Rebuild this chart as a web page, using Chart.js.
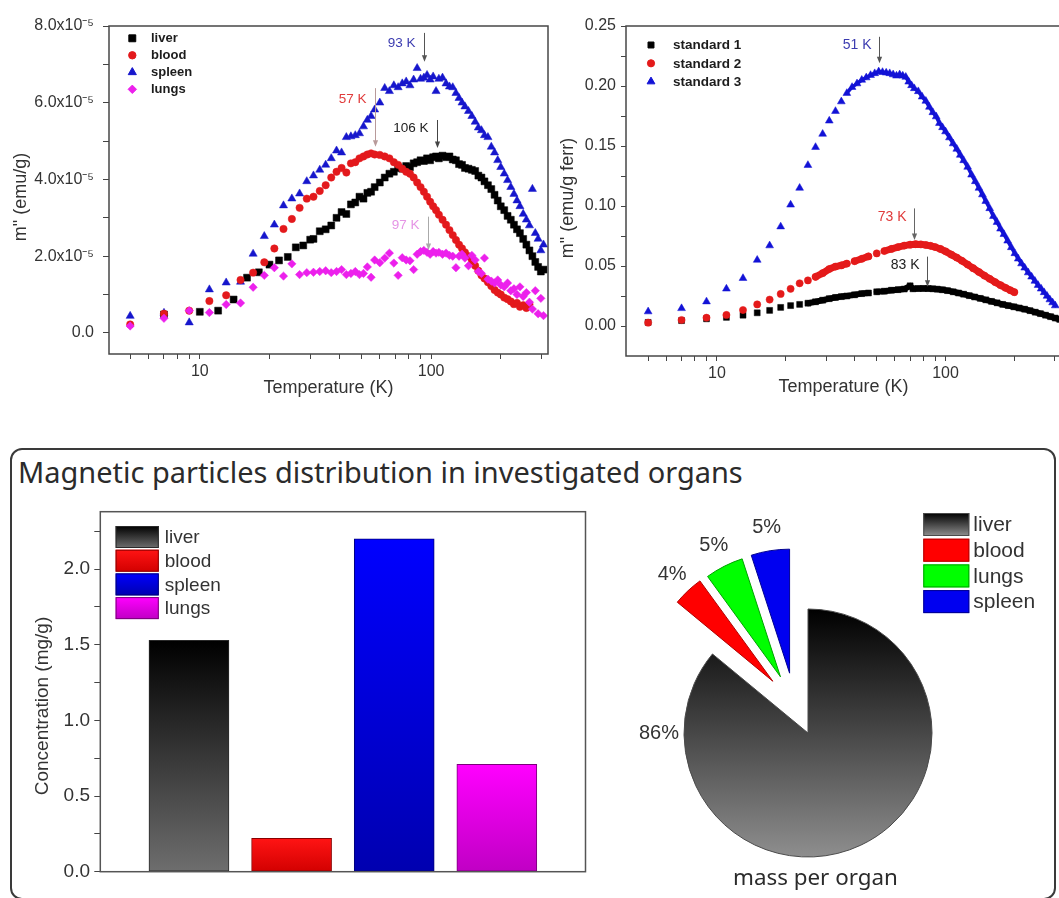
<!DOCTYPE html>
<html lang="en">
<head>
<meta charset="utf-8">
<title>Magnetic particles distribution in investigated organs</title>
<script src="https://cdn.jsdelivr.net/npm/chart.js@4.4.1/dist/chart.umd.min.js"></script>
<style>
  html, body { margin: 0; padding: 0; background: #fff; width: 1059px; height: 898px; overflow: hidden; }
  canvas { position: absolute; }
  #panel { position: absolute; left: 10px; top: 448px; width: 1046px; height: 452px; box-sizing: border-box;
           border: 2px solid #3a3a3a; border-radius: 12px; }
  .caption { position: absolute; white-space: nowrap; color: #2b2b2b; font-family: "Noto Sans", "Open Sans", sans-serif; }
</style>
</head>
<body>
<div id="panel"></div>
<div id="panelTitle" class="caption">Magnetic particles distribution in investigated organs</div>
<canvas id="organSweep" width="560" height="410" style="left:0;top:0"></canvas>
<canvas id="standardSweep" width="520" height="410" style="left:546px;top:0"></canvas>
<canvas id="concentration" width="600" height="400" style="left:0;top:490px"></canvas>
<canvas id="massShare" width="459" height="458" style="left:600px;top:440px"></canvas>
<div id="pieCaption" class="caption">mass per organ</div>
<script>
// ---------------------------------------------------------------------------
// Organ samples: out-of-phase moment m'' (units of 1e-5 emu/g) vs temperature (K)
// ---------------------------------------------------------------------------
const organLowT = [5, 7, 9, 11, 13, 15, 17, 19, 21, 23, 25, 27, 29];
const liverLowT = [7, 10, 12, 14, 16, 18, 20, 22, 24, 26, 28, 30];
const organHighT = [31, 33, 35, 37, 39, 41, 43, 45, 47, 49, 51, 53, 55, 57, 60, 63, 66, 69, 72, 75,
  78, 81, 84, 87, 90, 93, 96, 99, 102, 105, 108, 112, 116, 120, 124, 128, 132, 136, 140, 145,
  150, 155, 160, 165, 170, 176, 182, 188, 194, 200, 207, 214, 221, 228, 235, 242, 250, 258, 266, 274,
  282, 290, 298, 306];

const liverM = [0.48, 0.55, 0.58, 0.87, 1.44, 1.58, 1.78, 1.89, 1.98, 2.23, 2.28, 2.43,
  2.45, 2.65, 2.70, 2.80, 3.00, 3.15, 3.10, 3.35, 3.40, 3.55, 3.50, 3.65, 3.68, 3.80, 3.92, 4.05, 4.15, 4.20, 4.30, 4.28,
  4.35, 4.32, 4.42, 4.45, 4.50, 4.48, 4.55, 4.50, 4.58, 4.60, 4.55, 4.62, 4.58, 4.60, 4.52, 4.50, 4.40, 4.38, 4.30, 4.28,
  4.25, 4.22, 4.10, 4.05, 3.95, 3.85, 3.75, 3.60, 3.45, 3.30, 3.20, 3.05, 2.95, 2.82, 2.70, 2.60, 2.45, 2.30, 2.15, 2.00,
  1.85, 1.72, 1.60, 1.65];
const bloodM = [0.22, 0.50, 0.58, 0.83, 0.98, 1.38, 1.57, 1.84, 2.20, 2.71, 2.97, 3.26, 3.50,
  3.55, 3.70, 3.85, 4.05, 4.20, 4.30, 4.18, 4.42, 4.45, 4.55, 4.60, 4.65, 4.68, 4.65, 4.64, 4.60, 4.55, 4.45, 4.38, 4.28,
  4.20, 4.15, 4.05, 3.92, 3.80, 3.68, 3.55, 3.42, 3.30, 3.20, 3.08, 2.95, 2.82, 2.68, 2.55, 2.42, 2.30, 2.20, 2.10, 2.00,
  1.88, 1.75, 1.62, 1.50, 1.42, 1.32, 1.22, 1.12, 1.05, 1.00, 0.92, 0.88, 0.82, 0.75, 0.78, 0.68, 0.72, 0.65, 0.75];
const spleenM = [0.44, 0.52, 0.27, 1.13, 1.31, 1.33, 2.06, 2.52, 2.82, 3.32, 3.50, 3.63, 3.95,
  4.10, 4.25, 4.38, 4.55, 4.75, 4.70, 5.10, 5.12, 5.15, 5.20, 5.38, 5.55, 5.65, 5.82, 6.00, 6.38, 6.30, 6.45, 6.40, 6.50,
  6.55, 6.45, 6.60, 6.90, 6.62, 6.65, 6.72, 6.60, 6.68, 6.30, 6.62, 6.65, 6.50, 6.42, 6.40, 6.25, 6.12, 6.00, 5.90, 5.78,
  5.65, 5.50, 5.35, 5.28, 5.15, 5.10, 4.85, 4.70, 4.50, 4.32, 4.15, 3.98, 3.80, 3.62, 3.45, 3.30, 3.10, 2.95, 2.80, 3.75,
  2.60, 2.45, 2.15, 2.30];
const lungsM = [0.18, 0.38, 0.58, 0.53, 0.74, 0.78, 1.19, 1.50, 1.70, 1.48, 1.80, 1.52, 1.57,
  1.58, 1.60, 1.62, 1.57, 1.60, 1.65, 1.52, 1.55, 1.60, 1.52, 1.55, 1.72, 1.45, 1.90, 1.83, 1.95, 2.08, 1.82, 1.50, 1.96,
  1.90, 1.88, 1.65, 2.05, 2.12, 2.15, 2.10, 2.05, 2.12, 2.08, 2.10, 2.05, 2.08, 2.02, 2.00, 1.70, 2.00, 2.05, 1.95, 1.75,
  2.02, 1.90, 1.60, 1.55, 1.95, 1.40, 1.35, 1.30, 1.38, 1.25, 1.20, 1.30, 1.10, 1.15, 1.00, 1.20, 0.95, 1.05, 0.80, 0.62,
  1.10, 0.50, 0.90, 0.45];

// ---------------------------------------------------------------------------
// Ferrofluid standards: m'' (emu/g ferr) vs temperature (K)
// ---------------------------------------------------------------------------
const stdLowT = [5, 7, 9, 11, 13, 15, 17, 19, 21, 23, 25, 27, 29, 31, 33];
const std1HighT = [35, 37, 40, 43, 46, 50, 54, 58, 62, 66, 70, 72, 76, 80, 84, 88, 92, 97, 102, 108,
  114, 120, 127, 134, 142, 150, 159, 168, 178, 188, 199, 210, 222, 234, 247, 260, 274, 288, 302, 316];
const std1M = [0.0030, 0.0045, 0.0060, 0.0072, 0.0090, 0.0110, 0.0130, 0.0155, 0.0170, 0.0180, 0.0190, 0.0202, 0.0215, 0.0228, 0.0238,
  0.0245, 0.0250, 0.0260, 0.0270, 0.0275, 0.0285, 0.0290, 0.0298, 0.0303, 0.0308, 0.0335, 0.0310, 0.0312, 0.0313, 0.0312,
  0.0310, 0.0307, 0.0302, 0.0295, 0.0285, 0.0275, 0.0265, 0.0253, 0.0242, 0.0230, 0.0218, 0.0205, 0.0193, 0.0180, 0.0170,
  0.0160, 0.0150, 0.0140, 0.0128, 0.0115, 0.0103, 0.0090, 0.0078, 0.0066, 0.0055];
const std2HighT = [35, 37, 40, 43, 46, 50, 54, 58, 62, 66, 70, 74, 78, 82, 86, 90, 95, 100, 106, 112,
  118, 125, 132, 140, 148, 156, 165, 174, 183, 192, 200];
const std2M = [0.0028, 0.0050, 0.0069, 0.0092, 0.0133, 0.0180, 0.0220, 0.0267, 0.0310, 0.0356, 0.0380, 0.0410, 0.0440, 0.0475, 0.0495,
  0.0505, 0.0520, 0.0540, 0.0560, 0.0580, 0.0605, 0.0625, 0.0642, 0.0658, 0.0670, 0.0678, 0.0682, 0.0680, 0.0675, 0.0668,
  0.0658, 0.0642, 0.0622, 0.0595, 0.0570, 0.0543, 0.0512, 0.0482, 0.0450, 0.0420, 0.0393, 0.0365, 0.0340, 0.0318, 0.0298,
  0.0282];
const std3HighT = [35, 37, 39, 41, 43, 45, 47, 49, 51, 53, 55, 57, 59, 61, 63, 65, 67, 69, 71, 73,
  76, 79, 82, 85, 88, 91, 94, 97, 100, 104, 108, 112, 116, 120, 125, 130, 135, 140, 145, 150,
  156, 162, 168, 174, 180, 187, 194, 201, 208, 215, 222, 230, 238, 246, 254, 262, 270, 278, 286, 294, 302];
const std3M = [0.0120, 0.0147, 0.0203, 0.0310, 0.0398, 0.0550, 0.0670, 0.0828, 0.1010, 0.1150, 0.1340, 0.1490, 0.1600, 0.1710, 0.1790,
  0.1870, 0.1940, 0.1990, 0.2020, 0.2050, 0.2070, 0.2090, 0.2105, 0.2120, 0.2115, 0.2110, 0.2105, 0.2095, 0.2085, 0.2095,
  0.2085, 0.2075, 0.2035, 0.2005, 0.1980, 0.1955, 0.1910, 0.1875, 0.1825, 0.1780, 0.1745, 0.1690, 0.1655, 0.1620, 0.1570,
  0.1520, 0.1475, 0.1425, 0.1380, 0.1325, 0.1260, 0.1205, 0.1150, 0.1095, 0.1040, 0.0980, 0.0915, 0.0865, 0.0810, 0.0765,
  0.0710, 0.0655, 0.0605, 0.0560, 0.0520, 0.0485, 0.0445, 0.0410, 0.0375, 0.0340, 0.0310, 0.0280, 0.0250, 0.0220, 0.0195,
  0.0170];

// Temperature axis ticks (log scale) and the ones carrying a label
const tempTicks = [5, 6, 7, 8, 9, 10, 20, 30, 40, 50, 60, 70, 80, 90, 100, 200, 300];
const tempLabels = [10, 100];

// Blocking-peak temperatures marked on the curves (K)
const organPeakT = [93, 57, 106, 97];
const standardPeakT = [51, 73, 83];

// Iron-oxide concentration per organ (mg/g) and share of total mass (%)
const organs = ['liver', 'blood', 'spleen', 'lungs'];
const concentration = [1.53, 0.22, 2.20, 0.71];
const shareOrgans = ['liver', 'blood', 'lungs', 'spleen'];
const massShare = [86, 4, 5, 5];

// ---------------------------------------------------------------------------
// Styling
// ---------------------------------------------------------------------------
const SANS = '"Liberation Sans", Arial, sans-serif';
const INK = '#333333';
const sweepColor = { liver: '#000000', blood: '#e3191c', spleen: '#1616cc', lungs: '#ec20ec' };
const stdColor = ['#000000', '#e41a1a', '#1212d6'];
const barFill = { liver: ['#000000', '#6e6e6e'], blood: ['#ff1414', '#d20000'], spleen: ['#0000ff', '#0000b0'], lungs: ['#ff00ff', '#c000c4'] };
const barEdge = { liver: '#2a2a2a', blood: '#8a0000', spleen: '#00007a', lungs: '#7a007a' };
const pieFill = { liver: ['#000000', '#8e8e8e'], blood: ['#ff0000', '#ff0000'], lungs: ['#00ff00', '#00ff00'], spleen: ['#0000f0', '#0000f0'] };
const pieEdge = { liver: '#4a4a4a', blood: '#b00000', lungs: '#00a000', spleen: '#000090' };

Chart.defaults.font.family = SANS;
Chart.defaults.color = INK;

const series = (T, M) => M.map((m, i) => ({ x: T[i], y: m }));
const joinClose = (color, maxGap) => ({
  borderColor: c => Math.hypot(c.p1.x - c.p0.x, c.p1.y - c.p0.y) <= maxGap ? color : 'rgba(0,0,0,0)'
});
const vGradient = (ctx, y0, y1, stops) => {
  const g = ctx.createLinearGradient(0, y0, 0, y1);
  g.addColorStop(0, stops[0]);
  g.addColorStop(1, stops[1]);
  return g;
};

// ---------------------------------------------------------------------------
// Plugins
// ---------------------------------------------------------------------------
const framePlugin = {
  id: 'frame',
  afterDatasetsDraw(chart, args, o) {
    const { ctx, chartArea: a } = chart;
    ctx.save();
    ctx.strokeStyle = o.color || '#444';
    ctx.lineWidth = o.width || 1.5;
    ctx.strokeRect(a.left, a.top, a.right - a.left, a.bottom - a.top);
    ctx.restore();
  }
};

const sideCaption = {
  id: 'sideCaption',
  afterDraw(chart, args, o) {
    const ctx = chart.ctx;
    ctx.save();
    ctx.translate(o.x, o.y);
    ctx.rotate(-Math.PI / 2);
    ctx.font = `${o.size}px ${SANS}`;
    ctx.fillStyle = INK;
    ctx.textAlign = 'center';
    ctx.textBaseline = 'middle';
    ctx.fillText(o.text, 0, 0);
    ctx.restore();
  }
};

const markerLegend = {
  id: 'markerLegend',
  afterDraw(chart, args, o) {
    const { ctx, chartArea: a } = chart;
    ctx.save();
    chart.data.datasets.forEach((ds, i) => {
      const x = a.left + o.x, y = a.top + o.y + i * o.row;
      ctx.fillStyle = ds.pointBackgroundColor;
      ctx.strokeStyle = ds.pointBackgroundColor;
      Chart.helpers.drawPoint(ctx, { pointStyle: ds.pointStyle, radius: ds.pointRadius, borderWidth: 0.5, rotation: 0 }, x, y);
      ctx.fillStyle = '#1c1c1c';
      ctx.font = `bold ${o.size}px ${SANS}`;
      ctx.textAlign = 'left';
      ctx.textBaseline = 'middle';
      ctx.fillText(ds.label, x + o.gap, y + 0.5);
    });
    ctx.restore();
  }
};

const peakNotes = {
  id: 'peakNotes',
  afterDatasetsDraw(chart, args, o) {
    const { ctx, scales: { x, y } } = chart;
    ctx.save();
    o.items.forEach(n => {
      const px = Math.round(x.getPixelForValue(n.t)) + 0.5;
      const y0 = y.getPixelForValue(n.from), y1 = y.getPixelForValue(n.to);
      ctx.strokeStyle = n.arrow;
      ctx.fillStyle = n.arrow;
      ctx.lineWidth = 1;
      ctx.beginPath();
      ctx.moveTo(px, y0);
      ctx.lineTo(px, y1 - 5);
      ctx.stroke();
      ctx.beginPath();
      ctx.moveTo(px, y1);
      ctx.lineTo(px - 2.6, y1 - 6.5);
      ctx.lineTo(px + 2.6, y1 - 6.5);
      ctx.closePath();
      ctx.fill();
      ctx.fillStyle = n.color;
      ctx.font = `${o.size}px ${SANS}`;
      ctx.textAlign = 'right';
      ctx.textBaseline = 'middle';
      ctx.fillText(`${n.t} K`, px - o.gap, y.getPixelForValue(n.at));
    });
    ctx.restore();
  }
};

const swatchLegend = {
  id: 'swatchLegend',
  afterDraw(chart, args, o) {
    const { ctx, chartArea: a } = chart;
    const ox = o.inArea ? a.left : 0, oy = o.inArea ? a.top : 0;
    ctx.save();
    o.labels.forEach((label, i) => {
      const x = ox + o.x, y = oy + o.y + i * o.row;
      ctx.fillStyle = vGradient(ctx, y, y + o.h, o.fills[label]);
      ctx.fillRect(x, y, o.w, o.h);
      ctx.strokeStyle = o.edges[label];
      ctx.lineWidth = 1;
      ctx.strokeRect(x + 0.5, y + 0.5, o.w - 1, o.h - 1);
      ctx.fillStyle = INK;
      ctx.font = `${o.size}px ${SANS}`;
      ctx.textAlign = 'left';
      ctx.textBaseline = 'middle';
      ctx.fillText(label, x + o.w + o.gap, y + o.h / 2 + 1);
    });
    ctx.restore();
  }
};

// Pull selected pie slices out of the disc
function sliceShift(arcs, i, o) {
  const pulled = arcs.filter((a, k) => o.dist[k] > 0);
  const groupMid = (pulled[0].startAngle + pulled[pulled.length - 1].endAngle) / 2;
  const arc = arcs[i];
  const mid = (arc.startAngle + arc.endAngle) / 2;
  const dir = mid + (groupMid - mid) * o.pull;
  return { dx: Math.cos(dir) * o.dist[i], dy: Math.sin(dir) * o.dist[i] };
}

const explodePlugin = {
  id: 'explode',
  beforeDatasetDraw(chart, args, o) {
    const ctx = chart.ctx;
    const arcs = args.meta.data;
    arcs.forEach((arc, i) => {
      const s = sliceShift(arcs, i, o);
      ctx.save();
      ctx.translate(s.dx, s.dy);
      arc.draw(ctx, chart.chartArea);
      ctx.restore();
    });
    return false;
  },
  afterDatasetsDraw(chart, args, o) {
    const ctx = chart.ctx;
    const arcs = chart.getDatasetMeta(0).data;
    const values = chart.data.datasets[0].data;
    ctx.save();
    ctx.fillStyle = INK;
    ctx.font = `${o.labelSize}px ${SANS}`;
    ctx.textAlign = 'center';
    ctx.textBaseline = 'middle';
    arcs.forEach((arc, i) => {
      const s = sliceShift(arcs, i, o);
      const big = arc.endAngle - arc.startAngle > Math.PI;
      const ang = big ? o.bigAngle : (arc.startAngle + arc.endAngle) / 2;
      const r = arc.outerRadius + (big ? o.bigGap : o.gap);
      ctx.fillText(`${values[i]}%`, arc.x + s.dx + Math.cos(ang) * r, arc.y + s.dy + Math.sin(ang) * r);
    });
    ctx.restore();
  }
};

const still = {
  responsive: false, animation: false, events: [],
  plugins: { legend: { display: false }, tooltip: { enabled: false } }
};

const tempAxis = (height, titlePad) => ({
  type: 'logarithmic', min: 4.05, max: 320,
  afterBuildTicks: s => { s.ticks = tempTicks.map(v => ({ value: v })); },
  afterFit: s => { s.height = height; },
  ticks: { autoSkip: false, maxRotation: 0, padding: 3.4, font: { size: 16 }, color: INK,
           callback: v => tempLabels.includes(v) ? String(v) : '' },
  grid: { drawOnChartArea: false, tickLength: 5, color: '#444' },
  border: { display: false },
  title: { display: true, text: 'Temperature (K)', font: { size: 18 }, color: INK, padding: { top: 0, bottom: titlePad } }
});

// ---------------------------------------------------------------------------
// m'' of the organ samples
// ---------------------------------------------------------------------------
const organT = organLowT.concat(organHighT);
const liverT = liverLowT.concat(organHighT);
const sweepSet = (label, T, M, style, radius, order) => ({
  label, data: series(T, M), pointStyle: style, pointRadius: radius,
  pointBackgroundColor: sweepColor[label], pointBorderColor: sweepColor[label], pointBorderWidth: 0.5,
  showLine: false, order
});

new Chart(document.getElementById('organSweep'), {
  type: 'scatter',
  data: {
    datasets: [
      sweepSet('liver', liverT, liverM, 'rect', 4.9, 3),
      sweepSet('blood', organT, bloodM, 'circle', 3.7, 2),
      sweepSet('spleen', organT, spleenM, 'triangle', 4.7, 4),
      sweepSet('lungs', organT, lungsM, 'rectRot', 4.2, 1)
    ]
  },
  options: {
    ...still,
    layout: { padding: { left: 0, top: 26, right: 12, bottom: 0 } },
    scales: {
      x: tempAxis(56, 11.2),
      y: {
        min: -0.55, max: 8,
        afterBuildTicks: s => { s.ticks = [0, 1, 2, 3, 4, 5, 6, 7, 8].map(v => ({ value: v })); },
        afterFit: s => { s.width = 109; },
        ticks: { autoSkip: false, padding: 9, font: { size: 16 }, color: INK,
                 callback: v => v % 2 ? '' : (v === 0 ? '0.0' : `${v.toFixed(1)}x10\u207B\u2075`) },
        grid: { drawOnChartArea: false, tickLength: 6, color: '#444' },
        border: { display: false }
      }
    },
    plugins: {
      ...still.plugins,
      frame: { color: '#474747', width: 1.5 },
      sideCaption: { text: 'm" (emu/g)', x: 21, y: 197, size: 18 },
      markerLegend: { x: 23.3, y: 12.3, row: 17, gap: 18.7, size: 13 },
      peakNotes: {
        size: 13.5, gap: 9,
        items: [
          { t: organPeakT[0], from: 7.82, to: 7.07, at: 7.55, color: '#3b3bb0', arrow: '#555555' },
          { t: organPeakT[1], from: 6.38, to: 4.85, at: 6.09, color: '#e03a3a', arrow: '#b89a9a' },
          { t: organPeakT[2], from: 5.55, to: 4.82, at: 5.34, color: '#222222', arrow: '#444444' },
          { t: organPeakT[3], from: 3.03, to: 2.16, at: 2.81, color: '#e594e5', arrow: '#aaaaaa' }
        ]
      }
    }
  },
  plugins: [framePlugin, sideCaption, markerLegend, peakNotes]
});

// ---------------------------------------------------------------------------
// m'' of the ferrofluid standards
// ---------------------------------------------------------------------------
const stdSet = (label, T, M, i, style, radius, width, gap, order) => ({
  label, data: series(T, M), pointStyle: style, pointRadius: radius,
  pointBackgroundColor: stdColor[i], pointBorderColor: stdColor[i], pointBorderWidth: 0.5,
  showLine: true, borderColor: stdColor[i], borderWidth: width, tension: 0,
  borderCapStyle: 'round', borderJoinStyle: 'round', segment: joinClose(stdColor[i], gap), order
});

new Chart(document.getElementById('standardSweep'), {
  type: 'scatter',
  data: {
    datasets: [
      stdSet('standard 1', stdLowT.concat(std1HighT), std1M, 0, 'rect', 4.2, 6, 8, 2),
      stdSet('standard 2', stdLowT.concat(std2HighT), std2M, 1, 'circle', 3.6, 7, 8, 1),
      stdSet('standard 3', stdLowT.concat(std3HighT), std3M, 2, 'triangle', 4.5, 3.5, 10, 3)
    ]
  },
  options: {
    ...still,
    layout: { padding: { left: 0, top: 26, right: 2.3, bottom: 0 } },
    scales: {
      x: { ...tempAxis(54, 12), min: 4, max: 320 },
      y: {
        min: -0.025, max: 0.25,
        afterBuildTicks: s => { s.ticks = [0, 1, 2, 3, 4, 5, 6, 7, 8, 9, 10].map(k => ({ value: k * 0.025 })); },
        afterFit: s => { s.width = 80; },
        ticks: { autoSkip: false, padding: 5, font: { size: 16 }, color: INK,
                 callback: v => { const k = Math.round(v / 0.025); return k % 2 ? '' : (k * 0.025).toFixed(2); } },
        grid: { drawOnChartArea: false, tickLength: 5, color: '#444' },
        border: { display: false }
      }
    },
    plugins: {
      ...still.plugins,
      frame: { color: '#474747', width: 1.5 },
      sideCaption: { text: 'm" (emu/g ferr)', x: 21.7, y: 198, size: 18 },
      markerLegend: { x: 25, y: 19, row: 18.3, gap: 22, size: 13.5 },
      peakNotes: {
        size: 14, gap: 8,
        items: [
          { t: standardPeakT[0], from: 0.241, to: 0.219, at: 0.234, color: '#3b3bb0', arrow: '#555555' },
          { t: standardPeakT[1], from: 0.098, to: 0.0717, at: 0.091, color: '#e03a3a', arrow: '#666666' },
          { t: standardPeakT[2], from: 0.0578, to: 0.0328, at: 0.051, color: '#222222', arrow: '#555555' }
        ]
      }
    }
  },
  plugins: [framePlugin, sideCaption, markerLegend, peakNotes]
});

// ---------------------------------------------------------------------------
// Concentration per organ (bars)
// ---------------------------------------------------------------------------
new Chart(document.getElementById('concentration'), {
  type: 'bar',
  data: {
    datasets: [{
      data: organs.map((o, i) => ({ x: i + 1, y: concentration[i] })),
      barThickness: 80,
      borderWidth: 1,
      borderSkipped: false,
      borderColor: organs.map(o => barEdge[o]),
      backgroundColor: c => {
        const { chart, dataIndex } = c;
        const stops = barFill[organs[dataIndex]];
        if (!chart.chartArea || !chart.scales.y) return stops[0];
        const top = chart.scales.y.getPixelForValue(concentration[dataIndex]);
        return vGradient(chart.ctx, top, chart.chartArea.bottom, stops);
      }
    }]
  },
  options: {
    ...still,
    layout: { padding: { left: 0, top: 21.7, right: 14.5, bottom: 18.3 } },
    scales: {
      x: { type: 'linear', min: 0.136, max: 4.864, offset: false, display: false },
      y: {
        min: 0, max: 2.38,
        afterBuildTicks: s => { s.ticks = [0, 1, 2, 3, 4, 5, 6, 7, 8, 9].map(k => ({ value: k * 0.25 })); },
        afterFit: s => { s.width = 100.3; },
        ticks: { autoSkip: false, padding: 4.3, font: { size: 19 }, color: INK,
                 callback: v => { const k = Math.round(v / 0.25); return k % 2 ? '' : (k * 0.25).toFixed(1); } },
        grid: { drawOnChartArea: false, tickLength: 6, color: '#444' },
        border: { display: false }
      }
    },
    plugins: {
      ...still.plugins,
      frame: { color: '#555555', width: 1.5 },
      sideCaption: { text: 'Concentration (mg/g)', x: 43, y: 216, size: 19 },
      swatchLegend: { inArea: true, x: 15.3, y: 14.3, w: 43.2, h: 22, row: 23.7, gap: 6, size: 19,
                      labels: organs, fills: barFill, edges: barEdge }
    }
  },
  plugins: [framePlugin, sideCaption, swatchLegend]
});

// ---------------------------------------------------------------------------
// Share of the total particle mass per organ (pie)
// ---------------------------------------------------------------------------
new Chart(document.getElementById('massShare'), {
  type: 'pie',
  data: {
    labels: shareOrgans,
    datasets: [{
      data: massShare,
      borderWidth: 1,
      borderColor: shareOrgans.map(o => pieEdge[o]),
      backgroundColor: c => {
        const { chart, dataIndex } = c;
        const stops = pieFill[shareOrgans[dataIndex]];
        const a = chart.chartArea;
        if (!a) return stops[0];
        const cy = (a.top + a.bottom) / 2, r = chart.options.radius;
        return vGradient(chart.ctx, cy - r, cy + r, stops);
      }
    }]
  },
  options: {
    ...still,
    radius: 124,
    layout: { padding: { left: 0, top: 128, right: 43, bottom: 0 } },
    plugins: {
      ...still.plugins,
      explode: { dist: [0, 62.6, 62.6, 62.6], pull: 0.5, gap: 23, bigGap: 25, bigAngle: Math.PI, labelSize: 20 },
      swatchLegend: { inArea: false, x: 323.3, y: 73, w: 46, h: 23, row: 25.7, gap: 4, size: 21,
                      labels: shareOrgans, fills: pieFill, edges: pieEdge }
    }
  },
  plugins: [explodePlugin, swatchLegend]
});

// ---------------------------------------------------------------------------
// Panel title and pie caption, sized to their text runs
// ---------------------------------------------------------------------------
function placeCaption(id, left, right, baseline) {
  const el = document.getElementById(id);
  const family = getComputedStyle(el).fontFamily;
  const c = document.createElement('canvas').getContext('2d');
  c.font = `100px ${family}`;
  const size = 100 * (right - left) / c.measureText(el.textContent).width;
  c.font = `${size}px ${family}`;
  const m = c.measureText(el.textContent);
  const asc = m.fontBoundingBoxAscent, desc = m.fontBoundingBoxDescent;
  el.style.fontSize = size + 'px';
  el.style.lineHeight = size + 'px';
  el.style.left = left + 'px';
  el.style.top = (baseline - ((size - asc - desc) / 2 + asc)) + 'px';
}
placeCaption('panelTitle', 18, 743, 483.5);
placeCaption('pieCaption', 733, 898, 886);
</script>
</body>
</html>
